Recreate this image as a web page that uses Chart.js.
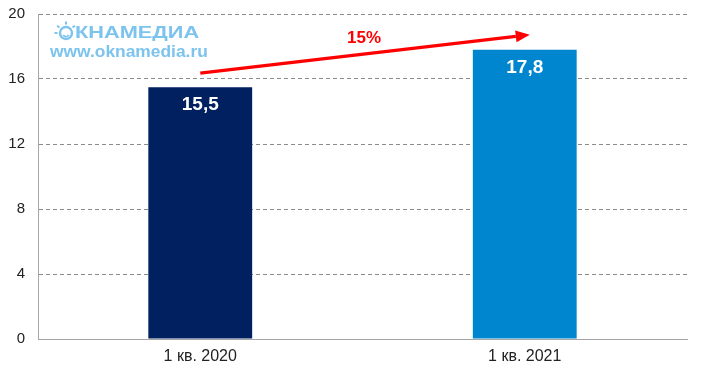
<!DOCTYPE html>
<html><head><meta charset="utf-8">
<script src="https://cdn.jsdelivr.net/npm/chart.js@4"></script>
<style>html,body{margin:0;padding:0;background:#fff;}#wrap{width:703px;height:376px;}</style>
</head><body><div id="wrap"><canvas id="c" width="703" height="376"></canvas></div>
<script>
const categories = ['1 кв. 2020', '1 кв. 2021'];
const values = [15.5, 17.8];
const valueLabels = ['15,5', '17,8'];
const barColors = ['#002060', '#0085CF'];
const growthLabel = '15%';
const yTicks = [0, 4, 8, 12, 16, 20];

const overlay = {
  id: 'overlay',
  afterDatasetsDraw(chart) {
    const ctx = chart.ctx;
    const meta = chart.getDatasetMeta(0);
    ctx.save();
    // value labels
    ctx.fillStyle = '#fff';
    ctx.font = 'bold 19px "Liberation Sans", Arial, sans-serif';
    ctx.textAlign = 'center';
    ctx.textBaseline = 'middle';
    meta.data.forEach((bar, i) => {
      ctx.fillText(valueLabels[i], bar.x, bar.y + 18);
    });
    // arrow
    const b0 = meta.data[0], b1 = meta.data[1];
    const x0 = b0.x, y0 = b0.y - 14;
    const x1 = b1.x + 5, y1 = b1.y - 15;
    const ang = Math.atan2(y1 - y0, x1 - x0);
    const headLen = 14, headW = 6;
    const bx = x1 - headLen * Math.cos(ang), by = y1 - headLen * Math.sin(ang);
    ctx.strokeStyle = '#ff0000';
    ctx.lineWidth = 3.5;
    ctx.beginPath();
    ctx.moveTo(x0, y0);
    ctx.lineTo(bx, by);
    ctx.stroke();
    ctx.fillStyle = '#ff0000';
    ctx.beginPath();
    ctx.moveTo(x1, y1);
    ctx.lineTo(bx + headW * Math.sin(ang), by - headW * Math.cos(ang));
    ctx.lineTo(bx - headW * Math.sin(ang), by + headW * Math.cos(ang));
    ctx.closePath();
    ctx.fill();
    ctx.font = 'bold 17px "Liberation Sans", Arial, sans-serif';
    ctx.fillText(growthLabel, (x0 + x1) / 2 - 1, 38);
    // watermark logo
    const wc = '#7cc3ee';
    ctx.strokeStyle = wc;
    ctx.fillStyle = wc;
    ctx.lineWidth = 2.4;
    const cx = 66, cy = 33;
    ctx.beginPath(); ctx.arc(cx, cy, 6, 0, Math.PI * 2); ctx.stroke();
    ctx.lineWidth = 1.6;
    ctx.beginPath(); ctx.arc(cx, cy + 0.5, 3, 0.15 * Math.PI, 0.85 * Math.PI); ctx.stroke();
    ctx.lineWidth = 2;
    [-Math.PI/2, -Math.PI*0.78, -Math.PI*0.22, Math.PI].forEach(a => {
      ctx.beginPath();
      ctx.moveTo(cx + 8.5 * Math.cos(a), cy + 8.5 * Math.sin(a));
      ctx.lineTo(cx + 11.5 * Math.cos(a), cy + 11.5 * Math.sin(a));
      ctx.stroke();
    });
    ctx.textAlign = 'left';
    ctx.save();
    ctx.translate(75, 33);
    ctx.scale(1.28, 1);
    ctx.font = 'bold 17px "Liberation Sans", Arial, sans-serif';
    ctx.fillText('КНАМЕДИА', 0, 0);
    ctx.restore();
    ctx.font = 'bold 17.4px "Liberation Sans", Arial, sans-serif';
    ctx.fillText('www.oknamedia.ru', 50, 52);
    ctx.restore();
  }
};

new Chart(document.getElementById('c'), {
  type: 'bar',
  data: {
    labels: categories,
    datasets: [{ data: values, backgroundColor: barColors, borderWidth: 0,
      barPercentage: 0.32, categoryPercentage: 1 }]
  },
  options: {
    responsive: false,
    animation: false,
    layout: { padding: { top: 14, right: 16, left: 0, bottom: 0 } },
    plugins: { legend: { display: false }, tooltip: { enabled: false } },
    scales: {
      x: {
        afterFit(scale) { scale.height = 37; scale.paddingLeft = 0; scale.paddingRight = 0; },
        grid: { display: false, drawTicks: false },
        border: { color: '#a6a6a6', width: 1 },
        ticks: { color: '#222', padding: 8, font: { family: '"Liberation Sans", Arial, sans-serif', size: 16 } }
      },
      y: {
        min: 0, max: 20,
        afterFit(scale) { scale.width = 38; scale.paddingTop = 0; scale.paddingBottom = 0; },
        afterBuildTicks(scale) { scale.ticks = yTicks.map(v => ({ value: v })); },
        grid: { color: '#8c8c8c', tickLength: 0, drawTicks: false, lineWidth: 1 },
        border: { display: true, color: '#a6a6a6', dash: [4, 3] },
        ticks: { color: '#222', padding: 13, font: { family: '"Liberation Sans", Arial, sans-serif', size: 15 } }
      }
    }
  },
  plugins: [overlay]
});
</script></body></html>
